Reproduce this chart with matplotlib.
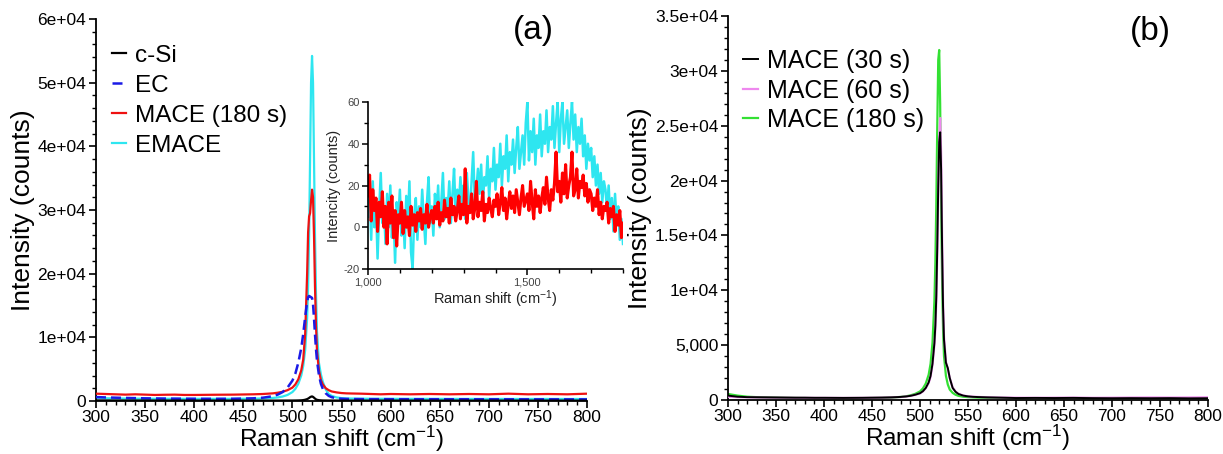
import matplotlib
matplotlib.use("Agg")
import matplotlib.pyplot as plt
from matplotlib.ticker import MultipleLocator, FixedLocator, FixedFormatter

plt.rcParams['font.family'] = ['Liberation Sans', 'DejaVu Sans']
plt.rcParams['mathtext.fontset'] = 'custom'
plt.rcParams['mathtext.rm'] = 'Liberation Sans'
plt.rcParams['mathtext.it'] = 'Liberation Sans:italic'
plt.rcParams['mathtext.bf'] = 'Liberation Sans:bold'
plt.rcParams['axes.unicode_minus'] = False

# ---------------- data: panel (a) ----------------
shift_a = [300, 310, 320, 330, 340, 350, 360, 370, 380, 390, 400, 420, 440, 460, 470,
           480, 485, 490, 495, 500, 503, 506, 509, 511, 513, 515, 516, 517, 518, 519,
           520, 521, 522, 523, 524, 525, 527, 529, 531, 534, 537, 540, 545, 550, 555,
           560, 570, 580, 590, 600, 620, 640, 660, 680, 700, 720, 740, 760, 780, 800]

csi = [90, 85, 80, 80, 78, 75, 75, 72, 70, 70, 70, 68, 66, 65, 65,
       66, 68, 70, 72, 75, 80, 90, 110, 140, 200, 300, 380, 480, 600, 680,
       720, 650, 520, 380, 260, 190, 130, 100, 85, 78, 74, 72, 70, 70, 68,
       68, 66, 65, 65, 64, 64, 63, 63, 62, 62, 62, 61, 61, 60, 60]

ec = [620, 560, 520, 480, 450, 420, 400, 380, 370, 360, 350, 340, 350, 420, 520,
      750, 1000, 1400, 2100, 3200, 4300, 6000, 8300, 10500, 13200, 15600, 16300, 16500, 16400, 16300,
      16200, 15200, 13000, 10500, 8200, 6400, 4100, 2700, 1900, 1200, 800, 600, 430, 360, 330,
      310, 300, 290, 290, 285, 280, 280, 275, 275, 270, 270, 265, 265, 260, 260]

mace180_a = [1150, 1100, 1050, 1000, 1050, 1000, 950, 980, 1000, 950, 950, 980, 1000, 1050, 1100,
             1200, 1300, 1450, 1700, 2100, 2600, 3400, 4800, 6500, 10500, 20000, 26500, 29000, 29500, 31500,
             33200, 32000, 26000, 18000, 12000, 8000, 4800, 3300, 2600, 2000, 1700, 1500, 1350, 1250, 1200,
             1180, 1150, 1100, 1050, 1100, 1050, 1100, 1050, 1100, 1050, 1150, 1050, 1100, 1050, 1150]

emace = [480, 430, 400, 380, 370, 360, 350, 350, 345, 340, 340, 335, 340, 360, 400,
         480, 560, 700, 950, 1400, 1900, 2700, 4000, 5500, 8000, 13000, 18000, 26000, 38000, 50000,
         54200, 50000, 38000, 26000, 17000, 11000, 6000, 4200, 3000, 1800, 1100, 800, 560, 450, 400,
         380, 360, 350, 345, 340, 335, 330, 330, 325, 325, 320, 320, 320, 315, 315]

labels_a = ['c-Si', 'EC', 'MACE (180 s)', 'EMACE']
yticks_a = [0, 10000, 20000, 30000, 40000, 50000, 60000]
yticklabels_a = ['0', '1e+04', '2e+04', '3e+04', '4e+04', '5e+04', '6e+04']

# ---------------- data: inset (a) ----------------
inset_x = list(range(1000, 1805, 5))
inset_mace180 = [15, 25, 3, 18, 8, 14, -2, 12, 5, 17,
                 0, 10, -8, 12, 2, 15, -5, 8, -9, 6,
                 2, 12, -3, 8, 0, 5, -4, 10, 1, 6,
                 -2, 7, 3, 9, -1, 6, 2, 11, 0, 5,
                 8, 2, 10, 4, 12, 1, 7, 3, 13, 5,
                 9, 2, 14, 6, 10, 3, 8, 15, 4, 11,
                 6, 28, 2, 10, 7, 16, 4, 9, 22, 5,
                 12, 8, 17, 3, 11, 7, 14, 9, 5, 13,
                 10, 16, 6, 12, 19, 8, 14, 4, 11, 17,
                 9, 15, 7, 18, 12, 6, 14, 20, 10, 13,
                 16, 8, 22, 12, 4, 18, 10, 15, 7, 14,
                 19, 11, 24, 14, 8, 18, 13, 21, 36, 17,
                 22, 12, 26, 16, 30, 14, 20, 24, 36, 15,
                 18, 28, 14, 22, 19, 25, 15, 21, 12, 18,
                 16, 8, 14, 10, 18, 6, 12, 4, 10, 8,
                 12, 2, 9, 5, 10, -2, 6, 1, 8, -5,
                 2]
inset_emace = [5, 18, -6, 22, 0, 12, -15, 8, 26, 2,
               10, -8, 16, 0, 20, -5, 8, -17, 12, 3,
               18, -4, 8, -10, 15, 2, 22, -12, -20, 6,
               14, -6, 10, 0, 18, 4, -8, 12, 24, 2,
               10, -4, 16, 6, 20, 0, 12, 26, 4, 14,
               8, 22, 2, 16, 28, 6, 18, 10, 24, 12,
               20, 4, 26, 14, 8, 22, 36, 12, 18, 28,
               16, 30, 10, 24, 20, 34, 14, 28, 22, 38,
               18, 30, 24, 40, 20, 34, 28, 44, 22, 36,
               30, 42, 26, 38, 48, 28, 36, 44, 30, 50,
               60, 32, 46, 36, 52, 30, 44, 38, 54, 34,
               46, 40, 56, 36, 48, 42, 58, 38, 50, 60,
               36, 52, 60, 40, 48, 56, 38, 50, 60, 42,
               54, 36, 48, 40, 52, 34, 44, 28, 40, 32,
               38, 24, 34, 20, 30, 16, 26, 12, 22, 18,
               8, 20, 4, 14, -2, 16, 2, 10, -6, 4,
               -8]

# ---------------- data: panel (b) ----------------
shift_b = shift_a
mace30 = [400, 300, 260, 250, 240, 230, 220, 210, 210, 200, 200, 190, 200, 220, 240,
          280, 320, 380, 480, 620, 800, 1100, 1600, 2200, 3300, 5200, 6800, 9500, 14000, 19500,
          23500, 24400, 21000, 14000, 8500, 5500, 3400, 2900, 2000, 1100, 750, 550, 400, 330, 290,
          270, 240, 220, 200, 180, 190, 180, 190, 170, 160, 170, 160, 170, 150, 160]
mace60 = [300, 260, 240, 230, 220, 210, 210, 200, 200, 195, 195, 190, 195, 215, 235,
          275, 315, 370, 470, 600, 780, 1080, 1550, 2100, 3200, 5000, 6500, 9000, 13500, 19000,
          24000, 25700, 22500, 15000, 9000, 5800, 3500, 2800, 2000, 1150, 780, 570, 410, 340, 300,
          280, 250, 230, 220, 210, 200, 210, 220, 200, 210, 220, 230, 220, 230, 240]
mace180_b = [550, 400, 300, 260, 240, 220, 200, 190, 180, 170, 170, 160, 170, 190, 220,
             280, 330, 420, 560, 780, 1050, 1500, 2300, 3300, 5200, 9000, 12500, 18000, 25000, 31000,
             31900, 27000, 18000, 11000, 6500, 4000, 2200, 1400, 950, 650, 480, 380, 300, 260, 240,
             220, 200, 190, 180, 170, 170, 175, 180, 170, 170, 175, 170, 170, 170, 175]
labels_b = ['MACE (30 s)', 'MACE (60 s)', 'MACE (180 s)']
yticks_b = [0, 5000, 10000, 15000, 20000, 25000, 30000, 35000]
yticklabels_b = ['0', '5,000', '1e+04', '1.5e+04', '2e+04', '2.5e+04', '3e+04', '3.5e+04']

xticks_main = [300, 350, 400, 450, 500, 550, 600, 650, 700, 750, 800]

# ---------------- figure ----------------
W, H = 1223, 454
fig = plt.figure(figsize=(W / 100, H / 100), dpi=100)

def px_axes(l, t, r, b):
    return fig.add_axes([l / W, 1 - b / H, (r - l) / W, (b - t) / H])

def style_main(ax):
    for s in ['top', 'right']:
        ax.spines[s].set_visible(False)
    for s in ['left', 'bottom']:
        ax.spines[s].set_linewidth(1.3)
    ax.tick_params(which='major', direction='out', length=5, width=1.2, labelsize=12.5, pad=2)
    ax.tick_params(axis='x', which='major', pad=1.5)
    ax.tick_params(which='minor', direction='out', length=3, width=1.0)

axA = px_axes(96, 19, 587, 401)
axA.plot(shift_a, emace, color='#2ee6f0', lw=1.6, label=labels_a[3], zorder=2)
axA.plot(shift_a, mace180_a, color='#ee1111', lw=1.6, label=labels_a[2], zorder=3)
axA.plot(shift_a, ec, color='#1a1ae6', lw=1.8, ls=(0, (4, 2)), label=labels_a[1], zorder=4)
axA.plot(shift_a, csi, color='black', lw=1.6, label=labels_a[0], zorder=5)
axA.set_xlim(300, 800)
axA.set_ylim(0, 60000)
axA.xaxis.set_major_locator(FixedLocator(xticks_main))
axA.xaxis.set_minor_locator(MultipleLocator(10))
axA.yaxis.set_major_locator(FixedLocator(yticks_a))
axA.yaxis.set_major_formatter(FixedFormatter(yticklabels_a))
axA.yaxis.set_minor_locator(MultipleLocator(2000))
style_main(axA)
axA.set_xlabel('Raman shift (cm$^{-1}$)', fontsize=17.5, labelpad=-1)
axA.set_ylabel('Intensity (counts)', fontsize=19, labelpad=2)
h, l = axA.get_legend_handles_labels()
order = [3, 2, 1, 0]
axA.legend([h[i] for i in order], [l[i] for i in order], loc='upper left',
           bbox_to_anchor=(0.012, 0.958), frameon=False, fontsize=17.5,
           handlelength=0.6, handletextpad=0.35, labelspacing=0.33, borderaxespad=0)
axA.text(0.89, 1.01, '(a)', transform=axA.transAxes, fontsize=24, ha='center', va='top')

# inset
axI = px_axes(368, 102, 623, 269)
axI.set_facecolor('none')
axI.plot(inset_x, inset_emace, color='#2ee6f0', lw=1.8)
axI.plot(inset_x, inset_mace180, color='#ff0000', lw=2.2)
axI.set_xlim(1000, 1800)
axI.set_ylim(-20, 60)
axI.xaxis.set_major_locator(FixedLocator([1000, 1500]))
axI.xaxis.set_major_formatter(FixedFormatter(['1,000', '1,500']))
axI.xaxis.set_minor_locator(FixedLocator([1100, 1200, 1300, 1400, 1600, 1700, 1800]))
axI.yaxis.set_major_locator(FixedLocator([-20, 0, 20, 40, 60]))
axI.yaxis.set_minor_locator(MultipleLocator(10))
for s in ['top', 'right']:
    axI.spines[s].set_visible(False)
for s in ['left', 'bottom']:
    axI.spines[s].set_linewidth(1.2)
axI.tick_params(which='major', direction='out', length=4, width=1.1, labelsize=8, labelcolor='#444444', pad=2)
axI.tick_params(which='minor', direction='out', length=3, width=1.0)
axI.set_xlabel('Raman shift (cm$^{-1}$)', fontsize=10.5, color='#222222', labelpad=1)
axI.set_ylabel('Intencity (counts)', fontsize=10.5, color='#222222', labelpad=2)

# panel (b)
axB = px_axes(728, 16, 1208, 400)
axB.plot(shift_b, mace180_b, color='#33e033', lw=1.6, label=labels_b[2], zorder=2)
axB.plot(shift_b, mace60, color='#ee88ee', lw=1.6, label=labels_b[1], zorder=3)
axB.plot(shift_b, mace30, color='black', lw=1.4, label=labels_b[0], zorder=4)
axB.set_xlim(300, 800)
axB.set_ylim(0, 35000)
axB.xaxis.set_major_locator(FixedLocator(xticks_main))
axB.xaxis.set_minor_locator(MultipleLocator(10))
axB.yaxis.set_major_locator(FixedLocator(yticks_b))
axB.yaxis.set_major_formatter(FixedFormatter(yticklabels_b))
axB.yaxis.set_minor_locator(MultipleLocator(1000))
style_main(axB)
axB.set_xlabel('Raman shift (cm$^{-1}$)', fontsize=17.5, labelpad=-1)
axB.set_ylabel('Intensity (counts)', fontsize=19, labelpad=2)
h, l = axB.get_legend_handles_labels()
order = [2, 1, 0]
axB.legend([h[i] for i in order], [l[i] for i in order], loc='upper left',
           bbox_to_anchor=(0.01, 0.94), frameon=False, fontsize=18,
           handlelength=0.6, handletextpad=0.35, labelspacing=0.22, borderaxespad=0)
axB.text(0.88, 1.0, '(b)', transform=axB.transAxes, fontsize=24, ha='center', va='top')

fig.savefig('out.png', dpi=100)
